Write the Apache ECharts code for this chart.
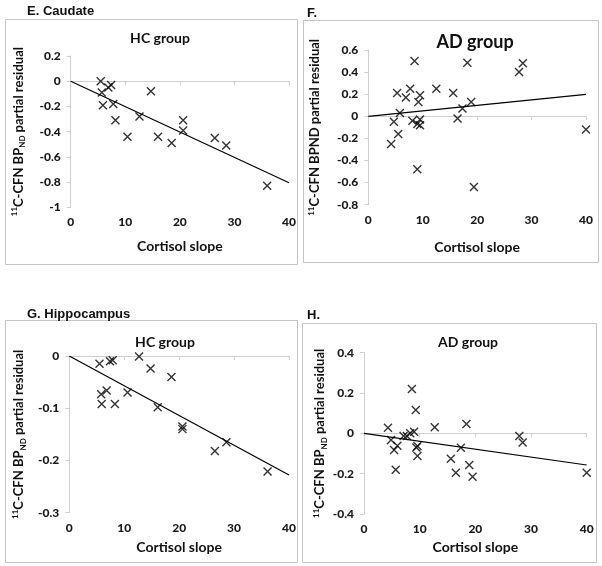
<!DOCTYPE html>
<html>
<head>
<meta charset="utf-8">
<script src="https://cdn.jsdelivr.net/npm/echarts@6/dist/echarts.min.js"></script>
<style>html,body{margin:0;padding:0;background:#fff}#c{width:602px;height:566px}</style>
</head>
<body>
<div id="c"></div>
<script>
// ---- data ----
var xTicks = [0, 10, 20, 30, 40];
// E. Caudate, HC group
var eX = [5.5, 7.4, 6.9, 5.7, 5.9, 7.8, 8.2, 10.4, 12.6, 14.7, 16.0, 18.5, 20.6, 20.6, 26.4, 28.5, 36.0];
var eY = [0.00, -0.03, -0.05, -0.09, -0.19, -0.18, -0.31, -0.44, -0.28, -0.08, -0.44, -0.49, -0.31, -0.39, -0.45, -0.51, -0.83];
var eFitX = [0, 40];
var eFitY = [0, -0.805];
// F. AD group
var fX = [8.5, 18.2, 27.7, 28.4, 5.3, 7.7, 6.9, 9.5, 9.2, 12.5, 15.6, 18.9, 17.3, 16.4, 5.8, 4.7, 5.5, 4.2, 8.1, 9.5, 9.0, 9.5, 9.0, 19.4, 40.0];
var fY = [0.50, 0.485, 0.40, 0.48, 0.21, 0.25, 0.17, 0.19, 0.13, 0.25, 0.21, 0.13, 0.07, -0.02, 0.03, -0.05, -0.16, -0.25, -0.04, -0.03, -0.07, -0.08, -0.48, -0.64, -0.12];
var fFitX = [0, 40];
var fFitY = [0, 0.199];
// G. Hippocampus, HC group
var gX = [5.5, 7.4, 7.9, 12.7, 14.8, 18.6, 5.8, 6.8, 5.9, 8.3, 10.6, 16.1, 20.6, 20.6, 26.5, 28.6, 36.1];
var gY = [-0.015, -0.010, -0.008, -0.001, -0.024, -0.040, -0.073, -0.066, -0.092, -0.092, -0.070, -0.098, -0.135, -0.140, -0.182, -0.165, -0.221];
var gFitX = [0, 40];
var gFitY = [0, -0.228];
// H. AD group
var hX = [8.6, 9.3, 4.3, 12.7, 18.4, 27.9, 28.5, 40.0, 4.85, 5.7, 5.4, 6.0, 7.1, 7.7, 8.3, 9.0, 9.6, 9.6, 9.4, 15.6, 16.5, 17.4, 18.9, 19.5];
var hY = [0.22, 0.116, 0.028, 0.03, 0.046, -0.013, -0.045, -0.195, -0.033, -0.18, -0.083, -0.061, -0.013, -0.013, 0.0, 0.008, -0.063, -0.112, -0.07, -0.126, -0.195, -0.071, -0.157, -0.215];
var hFitX = [0, 40];
var hFitY = [0, -0.157];

function pairs(xs, ys) { return xs.map(function (x, i) { return [x, ys[i]]; }); }

var FONT = 'Lato';
var grids = [
  {left: 70.7, top: 56, width: 218.3, height: 151.3},
  {left: 368.3, top: 50, width: 217.7, height: 154.7},
  {left: 69.3, top: 356, width: 219.7, height: 156.7},
  {left: 364, top: 352.7, width: 222.7, height: 161.3}
];
var yCfg = [
  {min: -1, max: 0.2, interval: 0.2, name: '{sup|11}C-CFN BP{sub|ND} partial residual', gap: 44},
  {min: -0.8, max: 0.6, interval: 0.2, name: '{sup|11}C-CFN BPND partial residual', gap: 45},
  {min: -0.3, max: 0, interval: 0.1, name: '{sup|11}C-CFN BP{sub|ND} partial residual', gap: 42},
  {min: -0.4, max: 0.4, interval: 0.2, name: '{sup|11}C-CFN BP{sub|ND} partial residual', gap: 36}
];
var xGaps = [32, 36, 28, 26];

var axisLine = {show: true, lineStyle: {color: '#cfcfcf', width: 1}};
var axisTick = {show: true, inside: false, length: 4, lineStyle: {color: '#cfcfcf'}};
var tickLabel = {color: '#1a1a1a', fontFamily: FONT, fontWeight: 900, fontSize: 12};

var xAxes = grids.map(function (g, i) {
  return {
    type: 'value', gridIndex: i, min: xTicks[0], max: xTicks[xTicks.length - 1], interval: 10,
    axisLine: axisLine, axisTick: axisTick, splitLine: {show: false},
    axisLabel: Object.assign({margin: 9}, tickLabel),
    name: 'Cortisol slope', nameLocation: 'middle', nameGap: xGaps[i],
    nameTextStyle: {fontFamily: FONT, fontWeight: 'bold', fontSize: 14, color: '#111'}
  };
});
var yAxes = yCfg.map(function (c, i) {
  return {
    type: 'value', gridIndex: i, min: c.min, max: c.max, interval: c.interval,
    axisLine: axisLine, axisTick: axisTick, splitLine: {show: false},
    axisLabel: Object.assign({margin: 10}, tickLabel),
    name: c.name, nameLocation: 'middle', nameGap: c.gap, nameRotate: 90,
    nameTextStyle: {
      fontFamily: FONT, fontWeight: 'bold', fontSize: 13, color: '#111', lineHeight: 16,
      rich: {
        sup: {fontFamily: FONT, fontWeight: 'bold', fontSize: 8, color: '#111', verticalAlign: 'top', lineHeight: 16},
        sub: {fontFamily: FONT, fontWeight: 'bold', fontSize: 8, color: '#111', verticalAlign: 'bottom', lineHeight: 16}
      }
    }
  };
});

var X_SYMBOL = 'path://M0,0L10,10M0,10L10,0';
function scatter(i, xs, ys) {
  return {
    type: 'scatter', xAxisIndex: i, yAxisIndex: i, data: pairs(xs, ys),
    symbol: X_SYMBOL, symbolSize: 8,
    itemStyle: {color: 'rgba(0,0,0,0)', borderColor: '#000', borderWidth: 1.4},
    emphasis: {disabled: true}, z: 3
  };
}
function fit(i, xs, ys) {
  return {
    type: 'line', xAxisIndex: i, yAxisIndex: i, data: pairs(xs, ys),
    showSymbol: false, symbol: 'none', lineStyle: {color: '#000', width: 1.2},
    emphasis: {disabled: true}, z: 2
  };
}

function txt(x, y, text, size, family, align) {
  return {type: 'text', x: x, y: y, style: {text: text, fill: '#111',
    font: 'bold ' + size + 'px ' + family, textAlign: align || 'left', textVerticalAlign: 'middle'}};
}
function box(x, y, w, h) {
  return {type: 'rect', shape: {x: x, y: y, width: w, height: h}, style: {fill: 'none', stroke: '#c4c4c4', lineWidth: 1}, z: -1};
}

var chart = echarts.init(document.getElementById('c'), null, {renderer: 'canvas'});
chart.setOption({
  animation: false,
  backgroundColor: '#fff',
  grid: grids,
  xAxis: xAxes,
  yAxis: yAxes,
  series: [
    scatter(0, eX, eY), fit(0, eFitX, eFitY),
    scatter(1, fX, fY), fit(1, fFitX, fFitY),
    scatter(2, gX, gY), fit(2, gFitX, gFitY),
    scatter(3, hX, hY), fit(3, hFitX, hFitY)
  ],
  graphic: [
    box(5.5, 19.5, 292, 245),
    box(303.5, 20.5, 295, 242),
    box(5.5, 320.5, 292, 242),
    box(302.5, 323.5, 294, 239),
    txt(27, 11, 'E. Caudate', 13, '"Liberation Sans", Arial'),
    txt(307, 13, 'F.', 13, '"Liberation Sans", Arial'),
    txt(27, 314, 'G. Hippocampus', 13, '"Liberation Sans", Arial'),
    txt(307, 315, 'H.', 13, '"Liberation Sans", Arial'),
    txt(160, 38, 'HC group', 14, FONT, 'center'),
    txt(475, 42, 'AD group', 18, FONT, 'center'),
    txt(165, 342, 'HC group', 14, FONT, 'center'),
    txt(468, 342, 'AD group', 14, FONT, 'center')
  ]
});
</script>
</body>
</html>
